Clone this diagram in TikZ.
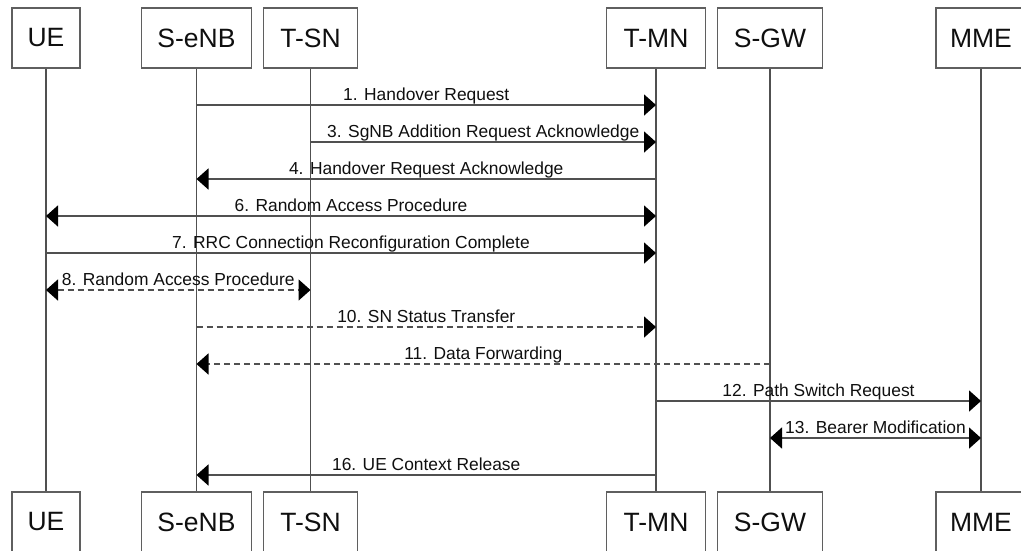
\documentclass[tikz,border=0pt]{standalone}
\usepackage{fontspec}
\setmainfont{Liberation Sans}
\usetikzlibrary{arrows.meta}
\definecolor{lineC}{RGB}{80,80,80}
\definecolor{boxC}{RGB}{95,95,95}
\definecolor{txtC}{RGB}{15,15,15}
\tikzset{
  actor/.style={draw=boxC, line width=1.8pt, fill=white, minimum height=60pt, inner sep=0pt,
    text=txtC, font=\fontsize{26.5}{30}\selectfont},
  life/.style={draw=lineC, line width=1.7pt},
  tip/.style={Triangle[length=12pt,width=21pt,fill=black,color=black]},
  msg/.style={draw=lineC, line width=1.7pt, -{Triangle[length=12pt,width=21pt,fill=black,color=black]}},
  bimsg/.style={draw=lineC, line width=1.7pt, {Triangle[length=12pt,width=21pt,fill=black,color=black]}-{Triangle[length=12pt,width=21pt,fill=black,color=black]}},
  dsh/.style={dash pattern=on 6pt off 4pt},
  lbl/.style={midway, anchor=base, yshift=4.5pt, inner sep=0pt, text=txtC, font=\fontsize{17.4}{20}\selectfont}
}
\begin{document}
\begin{tikzpicture}[x=1pt,y=-1pt]
\useasboundingbox (0,0) rectangle (1021,550);
% top actors
\node[actor, minimum width=68pt]  (ueT)   at (46,38)    {UE};
\node[actor, minimum width=110pt] (senbT) at (196.5,38) {S-eNB};
\node[actor, minimum width=94pt]  (tsnT)  at (310.5,38) {T-SN};
\node[actor, minimum width=99pt]  (tmnT)  at (656,38)   {T-MN};
\node[actor, minimum width=105pt] (sgwT)  at (770,38)   {S-GW};
\node[actor, minimum width=90pt]  (mmeT)  at (981,38)   {MME};
% bottom actors
\node[actor, minimum width=68pt]  (ueB)   at (46,522)    {UE};
\node[actor, minimum width=110pt] (senbB) at (196.5,522) {S-eNB};
\node[actor, minimum width=94pt]  (tsnB)  at (310.5,522) {T-SN};
\node[actor, minimum width=99pt]  (tmnB)  at (656,522)   {T-MN};
\node[actor, minimum width=105pt] (sgwB)  at (770,522)   {S-GW};
\node[actor, minimum width=90pt]  (mmeB)  at (981,522)   {MME};
% lifelines
\draw[life] (ueT.south) -- (ueB.north);
\draw[life] (senbT.south) -- (senbB.north);
\draw[life] (tsnT.south) -- (tsnB.north);
\draw[life] (tmnT.south) -- (tmnB.north);
\draw[life] (sgwT.south) -- (sgwB.north);
\draw[life] (mmeT.south) -- (mmeB.north);
% message rows
\coordinate (r1) at (0,105);
\coordinate (r3) at (0,142);
\coordinate (r4) at (0,179);
\coordinate (r6) at (0,216);
\coordinate (r7) at (0,253);
\coordinate (r8) at (0,290);
\coordinate (r10) at (0,327);
\coordinate (r11) at (0,364);
\coordinate (r12) at (0,401);
\coordinate (r13) at (0,438);
\coordinate (r16) at (0,475);
% messages
\draw[msg] (senbT |- r1) -- node[lbl] {1. Handover Request} (tmnT |- r1);
\draw[msg] (tsnT |- r3) -- node[lbl] {3. SgNB Addition Request Acknowledge} (tmnT |- r3);
\draw[msg] (tmnT |- r4) -- node[lbl] {4. Handover Request Acknowledge} (senbT |- r4);
\draw[bimsg] (ueT |- r6) -- node[lbl] {6. Random Access Procedure} (tmnT |- r6);
\draw[msg] (ueT |- r7) -- node[lbl] {7. RRC Connection Reconfiguration Complete} (tmnT |- r7);
\draw[bimsg, dsh] (ueT |- r8) -- node[lbl] {8. Random Access Procedure} (tsnT |- r8);
\draw[msg, dsh] (senbT |- r10) -- node[lbl] {10. SN Status Transfer} (tmnT |- r10);
\draw[msg, dsh] (sgwT |- r11) -- node[lbl] {11. Data Forwarding} (senbT |- r11);
\draw[msg] (tmnT |- r12) -- node[lbl] {12. Path Switch Request} (mmeT |- r12);
\draw[bimsg] (sgwT |- r13) -- node[lbl] {13. Bearer Modification} (mmeT |- r13);
\draw[msg] (tmnT |- r16) -- node[lbl] {16. UE Context Release} (senbT |- r16);
\end{tikzpicture}
\end{document}
